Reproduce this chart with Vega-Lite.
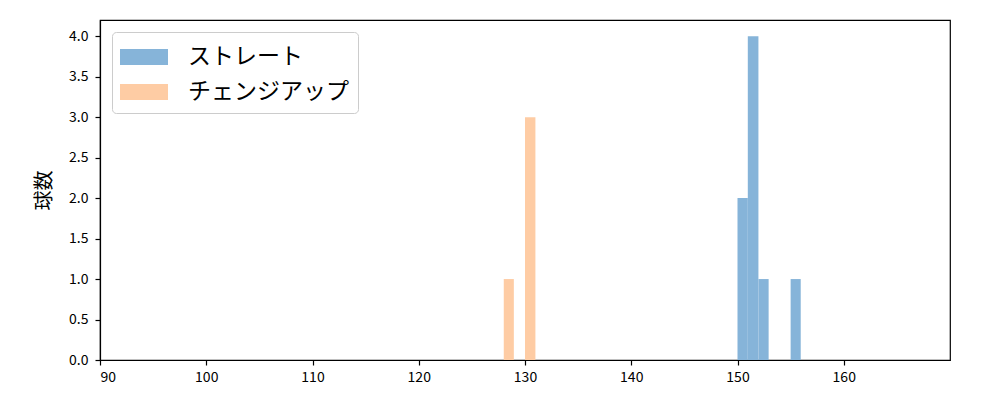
{
  "$schema": "https://vega.github.io/schema/vega-lite/v6.json",
  "width": 850,
  "height": 340,
  "autosize": {"type": "none"},
  "padding": {"left": 100, "top": 20, "right": 50, "bottom": 40},
  "background": "white",
  "config": {
    "view": {"stroke": "#000000", "strokeWidth": 1.2},
    "font": "Noto Sans CJK JP"
  },
  "data": {
    "values": [
      {"球種": "ストレート", "start": 150.0, "end": 150.97, "count": 2},
      {"球種": "ストレート", "start": 150.97, "end": 151.97, "count": 4},
      {"球種": "ストレート", "start": 151.97, "end": 152.93, "count": 1},
      {"球種": "ストレート", "start": 155.0, "end": 155.95, "count": 1},
      {"球種": "チェンジアップ", "start": 128.0, "end": 128.95, "count": 1},
      {"球種": "チェンジアップ", "start": 130.0, "end": 130.98, "count": 3}
    ]
  },
  "mark": {"type": "rect"},
  "encoding": {
    "x": {
      "field": "start",
      "type": "quantitative",
      "scale": {"domain": [90, 170], "nice": false, "zero": false},
      "axis": {
        "values": [90, 100, 110, 120, 130, 140, 150, 160],
        "title": null,
        "grid": false,
        "domainColor": "#000000",
        "domainWidth": 1.2,
        "tickColor": "#000000",
        "tickWidth": 1.2,
        "tickSize": 5,
        "labelColor": "#000000",
        "labelFontSize": 14,
        "labelPadding": 5,
        "labelFont": "Noto Sans CJK JP"
      }
    },
    "x2": {"field": "end"},
    "y": {
      "field": "count",
      "type": "quantitative",
      "scale": {"domain": [0, 4.2], "nice": false},
      "axis": {
        "values": [0, 0.5, 1, 1.5, 2, 2.5, 3, 3.5, 4],
        "format": ".1f",
        "title": "球数",
        "titleFontSize": 20,
        "titleFontWeight": "normal",
        "titleColor": "#000000",
        "titlePadding": 14,
        "grid": false,
        "domainColor": "#000000",
        "domainWidth": 1.2,
        "tickColor": "#000000",
        "tickWidth": 1.2,
        "tickSize": 5,
        "labelColor": "#000000",
        "labelFontSize": 14,
        "labelPadding": 7,
        "labelFont": "Noto Sans CJK JP"
      }
    },
    "y2": {"datum": 0},
    "color": {
      "field": "球種",
      "type": "nominal",
      "scale": {"domain": ["ストレート", "チェンジアップ"], "range": ["#86b4d9", "#fecca4"]},
      "legend": {
        "orient": "none",
        "legendX": 12,
        "legendY": 12,
        "title": null,
        "labelFontSize": 23,
        "labelLimit": 400,
        "labelColor": "#000000",
        "labelFont": "Noto Sans CJK JP",
        "symbolType": "M-1.5,-0.5H1.5V0.5H-1.5Z",
        "symbolSize": 1024,
        "symbolOffset": 7,
        "symbolStrokeWidth": 0,
        "padding": 9,
        "rowPadding": 7,
        "labelOffset": 28,
        "strokeColor": "#cccccc",
        "cornerRadius": 4,
        "fillColor": "rgba(255,255,255,0.8)"
      }
    }
  }
}
